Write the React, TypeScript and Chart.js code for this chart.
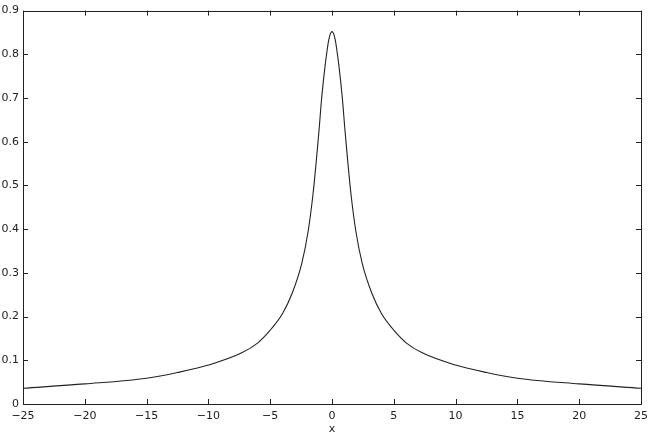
import React, { useEffect, useRef } from "react";
import { Chart, registerables } from "chart.js";

Chart.register(...registerables);

const xValues: number[] = [
  -25, -20, -15, -12.5, -10, -7.3, -6, -5, -4, -3.2, -2.45, -1.92, -1.56, -1.29, -1.05, -0.83, -0.54, -0.25, 0,
  0.25, 0.54, 0.83, 1.05, 1.29, 1.56, 1.92, 2.45, 3.2, 4, 5, 6, 7.3, 10, 12.5, 15, 20, 25,
];
const yValues: number[] = [
  0.036, 0.046, 0.059, 0.072, 0.089, 0.117, 0.14, 0.169, 0.207, 0.255, 0.321, 0.397, 0.474, 0.55, 0.626, 0.702, 0.778, 0.835, 0.852,
  0.835, 0.778, 0.702, 0.626, 0.55, 0.474, 0.397, 0.321, 0.255, 0.207, 0.169, 0.14, 0.117, 0.089, 0.072, 0.059, 0.046, 0.036,
];
const xTicks: number[] = [-25, -20, -15, -10, -5, 0, 5, 10, 15, 20, 25];
const yTicks: number[] = [0, 0.1, 0.2, 0.3, 0.4, 0.5, 0.6, 0.7, 0.8, 0.9];
const xAxisLabel = "x";

const FONT = "'DejaVu Sans', sans-serif";
const INK = "#222";

const boxPlugin = {
  id: "matlabBox",
  afterDraw(chart: any) {
    const { ctx, chartArea } = chart;
    const { left, right, top, bottom } = chartArea;
    const xs = chart.scales.x;
    const ys = chart.scales.y;
    const len = 5;
    ctx.save();
    ctx.strokeStyle = INK;
    ctx.lineWidth = 1;
    ctx.beginPath();
    for (const v of xTicks) {
      const px = Math.round(xs.getPixelForValue(v)) + 0.5;
      ctx.moveTo(px, bottom);
      ctx.lineTo(px, bottom - len);
      ctx.moveTo(px, top);
      ctx.lineTo(px, top + len);
    }
    for (const v of yTicks) {
      const py = Math.round(ys.getPixelForValue(v)) + 0.5;
      ctx.moveTo(left, py);
      ctx.lineTo(left + len, py);
      ctx.moveTo(right, py);
      ctx.lineTo(right - len, py);
    }
    ctx.stroke();
    ctx.strokeRect(Math.round(left) + 0.5, Math.round(top) + 0.5, Math.round(right - left), Math.round(bottom - top));
    ctx.restore();
  },
};

export default function App() {
  const ref = useRef<HTMLCanvasElement | null>(null);
  useEffect(() => {
    if (!ref.current) return;
    const points = xValues.map((x, i) => ({ x, y: yValues[i] }));
    const chart = new Chart(ref.current, {
      type: "line",
      data: {
        datasets: [
          {
            data: points,
            borderColor: INK,
            borderWidth: 1.1,
            pointRadius: 0,
            fill: false,
            cubicInterpolationMode: "monotone",
          },
        ],
      },
      options: {
        animation: false,
        responsive: false,
        maintainAspectRatio: false,
        layout: { padding: { left: 0, right: 13, top: 10, bottom: 0 } },
        plugins: { legend: { display: false }, tooltip: { enabled: false } },
        scales: {
          x: {
            type: "linear",
            min: -25,
            max: 25,
            grid: { display: false, drawTicks: false },
            border: { display: false },
            afterBuildTicks: (s: any) => {
              s.ticks = xTicks.map((v) => ({ value: v }));
            },
            afterFit: (s: any) => {
              s.height = 32;
            },
            ticks: {
              padding: 6,
              color: INK,
              font: { family: FONT, size: 11 },
              maxRotation: 0,
              autoSkip: false,
              callback: (v: any) => (Number(v) < 0 ? "\u2212" + Math.abs(Number(v)) : String(v)),
            },
            title: {
              display: true,
              text: xAxisLabel,
              color: INK,
              font: { family: FONT, size: 11 },
              padding: { top: 0, bottom: 0 },
            },
          },
          y: {
            type: "linear",
            min: 0,
            max: 0.9,
            grid: { display: false, drawTicks: false },
            border: { display: false },
            afterBuildTicks: (s: any) => {
              s.ticks = yTicks.map((v) => ({ value: v }));
            },
            afterFit: (s: any) => {
              s.width = 23;
            },
            ticks: {
              padding: 4,
              color: INK,
              font: { family: FONT, size: 11 },
              autoSkip: false,
              callback: (v: any) => String(Math.round(Number(v) * 10) / 10),
            },
          },
        },
      },
      plugins: [boxPlugin],
    });
    return () => chart.destroy();
  }, []);
  return (
    <div style={{ position: "fixed", left: 0, top: 0, width: 654, height: 436, background: "#fff" }}>
      <canvas ref={ref} width={654} height={436} style={{ display: "block" }} />
    </div>
  );
}
